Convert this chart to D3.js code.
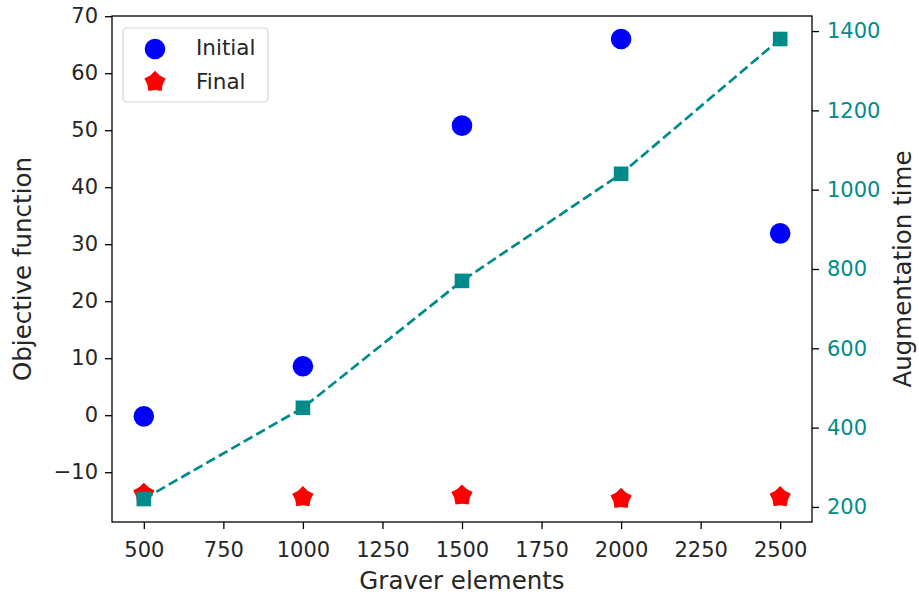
<!DOCTYPE html>
<html>
<head>
<meta charset="utf-8">
<script src="https://cdn.jsdelivr.net/npm/d3@7/dist/d3.min.js"></script>
<style>
  html, body { margin: 0; padding: 0; background: #fff; }
  svg text { font-family: "DejaVu Sans", sans-serif; }
</style>
</head>
<body>
<svg id="chart" width="919" height="597"></svg>
<script>
// Graver elements used in each run
const graverElements = [500, 1000, 1500, 2000, 2500];
// Objective function before and after augmentation
const initialObjective = [-0.2, 8.6, 50.8, 66.0, 31.9];
const finalObjective = [-13.8, -14.4, -14.1, -14.7, -14.4];
// Time spent in augmentation
const augmentationTime = [220, 450, 770, 1040, 1380];

// Tick values
const xTicks = [500, 750, 1000, 1250, 1500, 1750, 2000, 2250, 2500];
const leftTicks = [-10, 0, 10, 20, 30, 40, 50, 60, 70];
const rightTicks = [200, 400, 600, 800, 1000, 1200, 1400];

const margin = { left: 112, top: 16, right: 107, bottom: 75 };
const W = 919, H = 597;
const iw = W - margin.left - margin.right;
const ih = H - margin.top - margin.bottom;

const teal = "#008b8b";
const ink = "#262626";

// Padded extent, 5% on each side
function padded(values) {
  const [lo, hi] = d3.extent(values);
  const p = (hi - lo) * 0.05;
  return [lo - p, hi + p];
}

const x = d3.scaleLinear().domain(padded(graverElements)).range([0, iw]);
const yL = d3.scaleLinear().domain(padded(initialObjective.concat(finalObjective))).range([ih, 0]);
const yR = d3.scaleLinear().domain(padded(augmentationTime)).range([ih, 0]);

const svg = d3.select("#chart");
const g = svg.append("g").attr("transform", `translate(${margin.left},${margin.top})`);

// Pentagon-like marker with slightly pinched sides
const pentagon = {
  draw(ctx, size) {
    const r = Math.sqrt(size / 2.0);
    const inner = r * 0.72;
    for (let i = 0; i < 10; i++) {
      const a = -Math.PI / 2 + i * Math.PI / 5;
      const rr = i % 2 === 0 ? r : inner;
      const px = rr * Math.cos(a), py = rr * Math.sin(a);
      if (i === 0) ctx.moveTo(px, py); else ctx.lineTo(px, py);
    }
    ctx.closePath();
  }
};

// Scatter: initial objective
g.append("g").selectAll("circle")
  .data(graverElements.map((v, i) => [v, initialObjective[i]]))
  .join("circle")
  .attr("cx", d => x(d[0]))
  .attr("cy", d => yL(d[1]))
  .attr("r", 10.3)
  .attr("fill", "#0000ff");

// Scatter: final objective
g.append("g").selectAll("path")
  .data(graverElements.map((v, i) => [v, finalObjective[i]]))
  .join("path")
  .attr("transform", d => `translate(${x(d[0])},${yL(d[1])})`)
  .attr("d", d3.symbol().type(pentagon).size(250))
  .attr("fill", "#ff0000");

// Augmentation time line on the secondary axis
const tdata = graverElements.map((v, i) => [v, augmentationTime[i]]);
g.append("path")
  .datum(tdata)
  .attr("fill", "none")
  .attr("stroke", teal)
  .attr("stroke-width", 2.7)
  .attr("stroke-dasharray", "10,4.4")
  .attr("d", d3.line().x(d => x(d[0])).y(d => yR(d[1])));

g.append("g").selectAll("rect")
  .data(tdata)
  .join("rect")
  .attr("x", d => x(d[0]) - 7.3)
  .attr("y", d => yR(d[1]) - 7.3)
  .attr("width", 14.6)
  .attr("height", 14.6)
  .attr("fill", teal);

// Frame
g.append("rect")
  .attr("width", iw).attr("height", ih)
  .attr("fill", "none").attr("stroke", "#000").attr("stroke-width", 1.3);

// Axes
const tickFont = 21;
const xAxis = g.append("g").attr("transform", `translate(0,${ih})`)
  .call(d3.axisBottom(x).tickValues(xTicks).tickSize(7).tickPadding(13).tickFormat(d3.format("d")));
const yAxisL = g.append("g")
  .call(d3.axisLeft(yL).tickValues(leftTicks).tickSize(7).tickPadding(7)
    .tickFormat(d => d < 0 ? "\u2212" + Math.abs(d) : String(d)));
const yAxisR = g.append("g").attr("transform", `translate(${iw},0)`)
  .call(d3.axisRight(yR).tickValues(rightTicks).tickSize(7).tickPadding(8).tickFormat(d3.format("d")));

[xAxis, yAxisL, yAxisR].forEach(a => {
  a.select(".domain").remove();
  a.selectAll("text").attr("font-size", tickFont).attr("font-family", "DejaVu Sans");
  a.selectAll("line").attr("stroke-width", 1.3);
});
xAxis.selectAll("text").attr("fill", ink);
yAxisL.selectAll("text").attr("fill", ink);
yAxisR.selectAll("text").attr("fill", teal);
yAxisR.selectAll("line").attr("stroke", "#000");

// Axis titles
const labelFont = 24.5;
svg.append("text")
  .attr("x", margin.left + iw / 2).attr("y", 589)
  .attr("text-anchor", "middle").attr("font-size", labelFont).attr("fill", ink)
  .text("Graver elements");
svg.append("text")
  .attr("transform", `translate(31,${margin.top + ih / 2}) rotate(-90)`)
  .attr("text-anchor", "middle").attr("font-size", labelFont).attr("fill", ink)
  .text("Objective function");
svg.append("text")
  .attr("transform", `translate(911,${margin.top + ih / 2}) rotate(-90)`)
  .attr("text-anchor", "middle").attr("font-size", labelFont).attr("fill", ink)
  .text("Augmentation time");

// Legend
const lg = svg.append("g").attr("transform", "translate(123,28)");
lg.append("rect")
  .attr("width", 145).attr("height", 74).attr("rx", 4)
  .attr("fill", "#fff").attr("fill-opacity", 0.8)
  .attr("stroke", "#d5d5d5").attr("stroke-width", 1.2);
lg.append("circle").attr("cx", 32).attr("cy", 21).attr("r", 10.3).attr("fill", "#0000ff");
lg.append("path").attr("transform", "translate(32,54)")
  .attr("d", d3.symbol().type(pentagon).size(250)).attr("fill", "#ff0000");
lg.append("text").attr("x", 73).attr("y", 27).attr("font-size", 21.5).attr("fill", ink).text("Initial");
lg.append("text").attr("x", 73).attr("y", 61).attr("font-size", 21.5).attr("fill", ink).text("Final");
</script>
</body>
</html>
